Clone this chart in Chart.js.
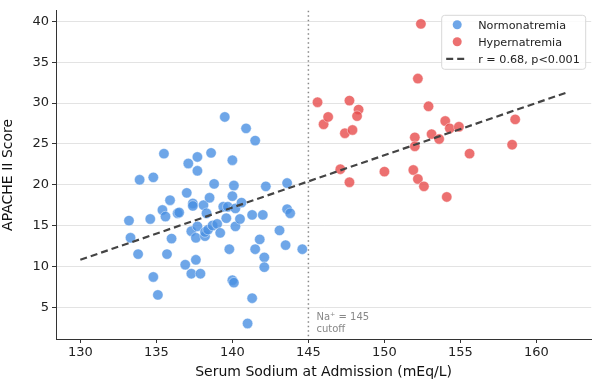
<!DOCTYPE html>
<html lang="en">
<head>
    <meta charset="UTF-8">
    <title>APACHE II vs Serum Sodium</title>
    <script src="https://cdn.jsdelivr.net/npm/chart.js"></script>
    <style>
        html, body { margin: 0; padding: 0; background: #fff; }
        #wrap { width: 597px; height: 381px; }
    </style>
</head>
<body>
    <div id="wrap"><canvas id="sodiumChart"></canvas></div>

    <script>
        // Normonatremia (Na < 145)
        const normoNa = [133.2, 133.3, 133.8, 133.9, 134.6, 134.8, 134.8, 135.1, 135.5, 135.4,
            135.6, 135.7, 135.9, 136.0, 136.4, 136.5, 136.9, 137.0, 137.1, 137.3,
            137.9, 137.3, 137.4, 137.4, 137.6, 137.6, 137.7, 137.7, 137.7, 138.1,
            138.2, 138.2, 138.4, 138.3, 138.5, 138.6, 138.7, 138.8, 139.0, 139.2,
            139.4, 139.5, 139.7, 139.6, 139.8, 140.0, 140.1, 140.0, 140.2, 140.2,
            140.0, 140.1, 140.5, 140.6, 140.9, 141.0, 141.3, 141.3, 141.5, 141.5,
            141.8, 142.0, 142.1, 142.1, 142.2, 143.1, 143.5, 143.6, 143.6, 143.8, 144.6];
        const normoApache = [15.6, 13.5, 11.5, 20.6, 15.8, 20.9, 8.7, 6.5, 23.8, 16.9,
            16.1, 11.5, 18.1, 13.4, 16.5, 16.6, 10.2, 19.0, 22.6, 9.1,
            9.1, 14.3, 17.7, 17.4, 13.5, 10.8, 23.4, 21.7, 14.9, 17.5,
            13.7, 14.2, 14.5, 16.5, 18.4, 23.9, 15.0, 20.1, 15.2, 14.1,
            17.3, 28.3, 17.3, 15.9, 12.1, 23.0, 19.9, 18.6, 17.1, 14.9,
            8.3, 8.0, 15.8, 17.8, 26.9, 3.0, 16.3, 6.1, 25.4, 12.1,
            13.3, 16.3, 11.1, 9.9, 19.8, 14.4, 12.6, 20.2, 17.0, 16.5, 12.1];

        // Hypernatremia (Na >= 145)
        const hyperNa = [145.6, 146.0, 146.3, 147.7, 148.3, 148.2, 147.4, 147.9, 147.1, 147.7,
            150.0, 151.9, 152.0, 152.0, 152.2, 152.6, 152.2, 152.4, 152.9, 153.1,
            153.6, 154.0, 154.3, 154.9, 154.1, 155.6, 158.6, 158.4];
        const hyperApache = [30.1, 27.4, 28.3, 30.3, 29.2, 28.4, 26.3, 26.7, 21.9, 20.3,
            21.6, 21.8, 25.8, 24.7, 20.7, 19.8, 33.0, 39.7, 29.6, 26.2,
            25.6, 27.8, 26.9, 27.1, 18.5, 23.8, 28.0, 24.9];

        // regression line end points
        const fitNa = [130, 162];
        const fitApache = [10.8, 31.3];

        const cutoffNa = 145;
        const xTicks = [130, 135, 140, 145, 150, 155, 160];
        const yTicks = [5, 10, 15, 20, 25, 30, 35, 40];

        const toPoints = (xs, ys) => xs.map((x, i) => ({ x: x, y: ys[i] }));

        const FONT = 'DejaVu Sans';
        const BLUE = 'rgba(74,144,226,0.8)';
        const RED = 'rgba(231,76,76,0.8)';
        const LINE = '#444';

        // dotted cutoff line + its note
        const cutoffPlugin = {
            id: 'cutoff',
            beforeDatasetsDraw(chart) {
                const { ctx, chartArea, scales } = chart;
                const x = scales.x.getPixelForValue(cutoffNa);
                ctx.save();
                ctx.strokeStyle = '#888';
                ctx.lineWidth = 1.5;
                ctx.setLineDash([1.5, 3]);
                ctx.beginPath();
                ctx.moveTo(x, chartArea.top);
                ctx.lineTo(x, chartArea.bottom);
                ctx.stroke();
                ctx.setLineDash([]);
                ctx.fillStyle = '#888';
                ctx.font = '10px ' + FONT;
                ctx.textBaseline = 'middle';
                ctx.fillText('Na\u207A = 145', x + 8, chartArea.bottom - 22);
                ctx.fillText('cutoff', x + 8, chartArea.bottom - 10);
                ctx.restore();
            }
        };

        // legend box inside the plot, top right
        const legendPlugin = {
            id: 'boxLegend',
            afterDatasetsDraw(chart) {
                const { ctx, chartArea } = chart;
                const items = chart.data.datasets;
                const w = 144, rowH = 17;
                const h = items.length * rowH + 3;
                const x0 = chartArea.right - w - 6, y0 = chartArea.top + 4;
                ctx.save();
                ctx.fillStyle = 'rgba(255,255,255,0.85)';
                ctx.strokeStyle = '#d8d8d8';
                ctx.lineWidth = 1;
                ctx.beginPath();
                ctx.roundRect(x0 + 0.5, y0 + 0.5, w, h, 3);
                ctx.fill();
                ctx.stroke();
                ctx.font = '11.2px ' + FONT;
                ctx.textBaseline = 'middle';
                items.forEach((d, i) => {
                    const cy = y0 + 10 + i * rowH;
                    if (d.type === 'line') {
                        ctx.strokeStyle = d.borderColor;
                        ctx.lineWidth = 2.2;
                        ctx.setLineDash([7, 4]);
                        ctx.beginPath();
                        ctx.moveTo(x0 + 5, cy);
                        ctx.lineTo(x0 + 26, cy);
                        ctx.stroke();
                        ctx.setLineDash([]);
                    } else {
                        ctx.fillStyle = d.backgroundColor;
                        ctx.beginPath();
                        ctx.arc(x0 + 16, cy, 4.5, 0, Math.PI * 2);
                        ctx.fill();
                    }
                    ctx.fillStyle = '#222';
                    ctx.fillText(d.label, x0 + 37, cy + 1);
                });
                ctx.restore();
            }
        };

        const ctx = document.getElementById('sodiumChart').getContext('2d');

        const chart = new Chart(ctx, {
            type: 'scatter',
            data: {
                datasets: [{
                    label: 'Normonatremia',
                    data: toPoints(normoNa, normoApache),
                    backgroundColor: BLUE,
                    borderColor: 'rgba(255,255,255,0.7)',
                    borderWidth: 0.6,
                    pointRadius: 5.2,
                    order: 2
                }, {
                    label: 'Hypernatremia',
                    data: toPoints(hyperNa, hyperApache),
                    backgroundColor: RED,
                    borderColor: 'rgba(255,255,255,0.7)',
                    borderWidth: 0.6,
                    pointRadius: 5.2,
                    order: 1
                }, {
                    type: 'line',
                    label: 'r = 0.68, p<0.001',
                    data: toPoints(fitNa, fitApache),
                    borderColor: LINE,
                    borderWidth: 2.2,
                    borderDash: [7, 4],
                    pointRadius: 0,
                    fill: false,
                    order: 0
                }]
            },
            options: {
                responsive: true,
                maintainAspectRatio: false,
                animation: false,
                layout: { padding: { top: 10, right: 1, left: 0, bottom: 0 } },
                plugins: {
                    legend: { display: false },
                    tooltip: { enabled: false }
                },
                scales: {
                    x: {
                        type: 'linear',
                        min: 128.4,
                        max: 163.6,
                        afterBuildTicks: s => { s.ticks = xTicks.map(v => ({ value: v })); },
                        afterFit: s => { s.height = 42; },
                        grid: {
                            drawOnChartArea: false,
                            drawTicks: true,
                            tickLength: 4,
                            tickColor: '#333'
                        },
                        border: { color: '#333', width: 1 },
                        ticks: { color: '#222', font: { family: FONT, size: 13 }, padding: 2 },
                        title: {
                            display: true,
                            text: 'Serum Sodium at Admission (mEq/L)',
                            color: '#111',
                            font: { family: FONT, size: 14 },
                            padding: { top: 1, bottom: 0 }
                        }
                    },
                    y: {
                        min: 1.1,
                        max: 41.3,
                        afterBuildTicks: s => { s.ticks = yTicks.map(v => ({ value: v })); },
                        afterFit: s => { s.width = 56; },
                        grid: {
                            color: '#e3e3e3',
                            borderDash: [4, 3],
                            tickColor: '#333',
                            tickBorderDash: [],
                            tickLength: 4
                        },
                        border: { color: '#333', width: 1 },
                        ticks: { color: '#222', font: { family: FONT, size: 13 }, padding: 3 },
                        title: {
                            display: true,
                            text: 'APACHE II Score',
                            color: '#111',
                            font: { family: FONT, size: 14 },
                            padding: { top: 0, bottom: 2 }
                        }
                    }
                }
            },
            plugins: [cutoffPlugin, legendPlugin]
        });
    </script>
</body>
</html>
